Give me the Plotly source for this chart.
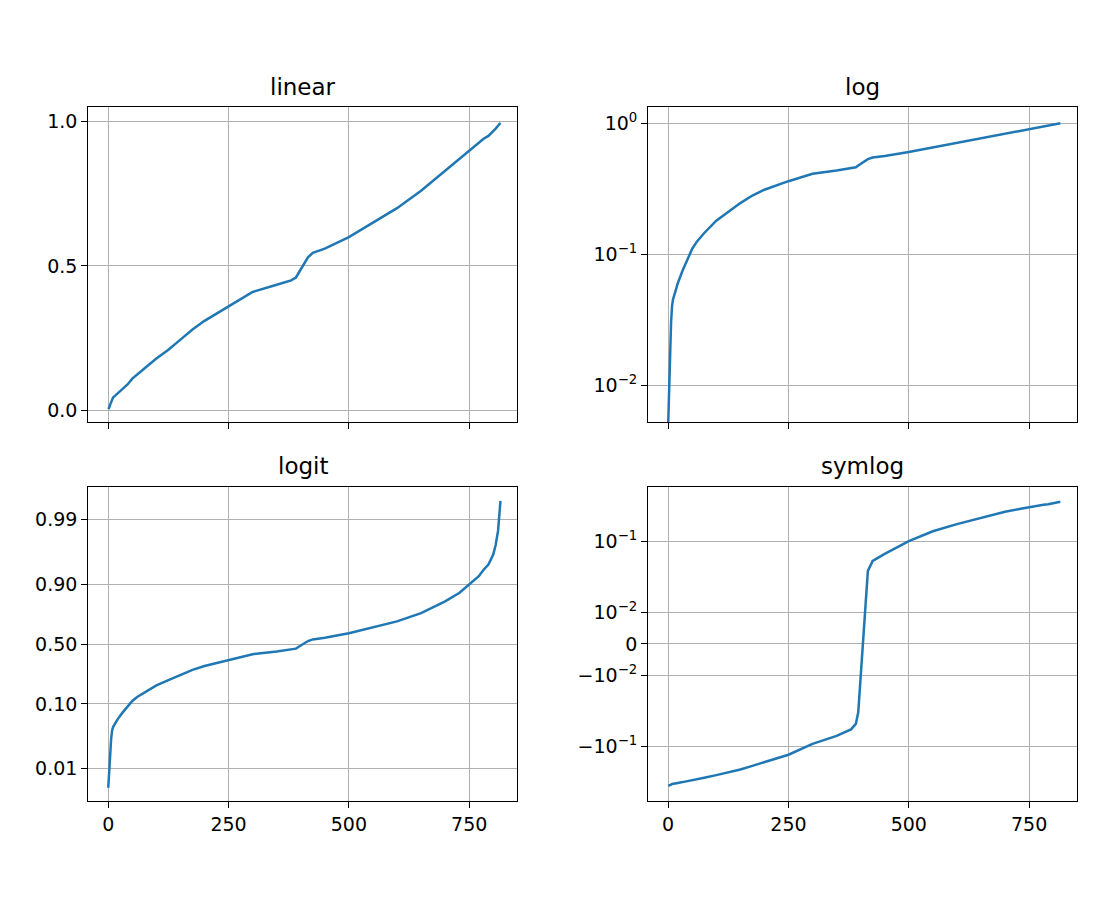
import numpy as np
import plotly.graph_objects as go

# sorted sample values
x_vals = [0, 2, 4, 6, 8, 10, 15, 20, 30, 40, 50, 60, 75, 100, 125, 150, 175, 200, 250, 300,
          350, 380, 390, 395, 400, 405, 410, 415, 425, 450, 500, 550, 600, 650, 700, 730, 750,
          770, 780, 790, 800, 805, 810, 815]
y_vals = [0.005, 0.01, 0.02, 0.03, 0.04, 0.045, 0.052, 0.06, 0.075, 0.09, 0.11, 0.125, 0.145, 0.18,
          0.21, 0.245, 0.28, 0.31, 0.36, 0.41, 0.435, 0.45, 0.46, 0.475, 0.49, 0.5, 0.515, 0.53,
          0.545, 0.56, 0.6, 0.65, 0.7, 0.76, 0.83, 0.87, 0.9, 0.925, 0.94, 0.95, 0.965, 0.975,
          0.985, 0.995]
y_mean = 0.5
titles = ["linear", "log", "logit", "symlog"]

y = np.array(y_vals)

def logit(p):
    p = np.asarray(p, dtype=float)
    return np.log10(p / (1 - p))

LT = 0.02
LS = 1 / (1 - 1 / 10)
def symlog(v):
    v = np.asarray(v, dtype=float)
    a = np.abs(v)
    out = np.where(a <= LT, a / LT * LS, LS + np.log10(np.maximum(a, 1e-12) / LT))
    return np.sign(v) * out

blue = "#1f77b4"
fig = go.Figure()
fig.add_trace(go.Scatter(x=x_vals, y=y, xaxis="x", yaxis="y", mode="lines", line=dict(color=blue, width=2.5)))
fig.add_trace(go.Scatter(x=x_vals, y=y, xaxis="x2", yaxis="y2", mode="lines", line=dict(color=blue, width=2.5)))
fig.add_trace(go.Scatter(x=x_vals, y=logit(y), xaxis="x3", yaxis="y3", mode="lines", line=dict(color=blue, width=2.5)))
fig.add_trace(go.Scatter(x=x_vals, y=symlog(y - y_mean), xaxis="x4", yaxis="y4", mode="lines", line=dict(color=blue, width=2.5)))

common = dict(showline=True, linecolor="black", linewidth=1.2, mirror=True, ticks="outside",
              ticklen=6, tickcolor="black", showgrid=True, gridcolor="#b0b0b0", gridwidth=1.2,
              zeroline=False, tickfont=dict(size=19, color="black"))
xdom = [[0.073, 0.463], [0.582, 0.972]]
ydom = [[0.54, 0.89], [0.119, 0.468]]
xr = [-41.5, 850]
xt = dict(tickvals=[0, 250, 500, 750])

lay = dict(width=1100, height=900, margin=dict(l=0, r=0, t=0, b=0), showlegend=False,
           plot_bgcolor="white", paper_bgcolor="white", font=dict(family="DejaVu Sans"))
lay["xaxis"] = dict(common, domain=xdom[0], anchor="y", range=xr, showticklabels=False, **xt)
lay["xaxis2"] = dict(common, domain=xdom[1], anchor="y2", range=xr, showticklabels=False, **xt)
lay["xaxis3"] = dict(common, domain=xdom[0], anchor="y3", range=xr, **xt)
lay["xaxis4"] = dict(common, domain=xdom[1], anchor="y4", range=xr, **xt)
lay["yaxis"] = dict(common, domain=ydom[0], anchor="x", range=[-0.04, 1.05],
                    tickvals=[0, 0.5, 1], ticktext=["0.0", "0.5", "1.0"])
lay["yaxis2"] = dict(common, domain=ydom[0], anchor="x2", type="log", range=[-2.28, 0.122],
                     tickvals=[0.01, 0.1, 1], ticktext=["10<sup>−2</sup>", "10<sup>−1</sup>", "10<sup>0</sup>"])
lg_ticks = [0.01, 0.1, 0.5, 0.9, 0.99]
lay["yaxis3"] = dict(common, domain=ydom[1], anchor="x3", range=[-2.51, 2.525],
                     tickvals=list(logit(lg_ticks)), ticktext=["0.01", "0.10", "0.50", "0.90", "0.99"])
sl_ticks = [-0.1, -0.01, 0, 0.01, 0.1]
lay["yaxis4"] = dict(common, domain=ydom[1], anchor="x4", range=[-2.77, 2.77],
                     tickvals=list(symlog(sl_ticks)),
                     ticktext=["−10<sup>−1</sup>", "−10<sup>−2</sup>", "0", "10<sup>−2</sup>", "10<sup>−1</sup>"])
fig.update_layout(**lay)

for i, t in enumerate(titles):
    xd = xdom[i % 2]
    yd = ydom[i // 2]
    fig.add_annotation(text=t, x=(xd[0] + xd[1]) / 2, y=yd[1] + 0.006, xref="paper", yref="paper",
                       xanchor="center", yanchor="bottom", showarrow=False, font=dict(size=23, color="black"))

fig.write_html("out.html")
